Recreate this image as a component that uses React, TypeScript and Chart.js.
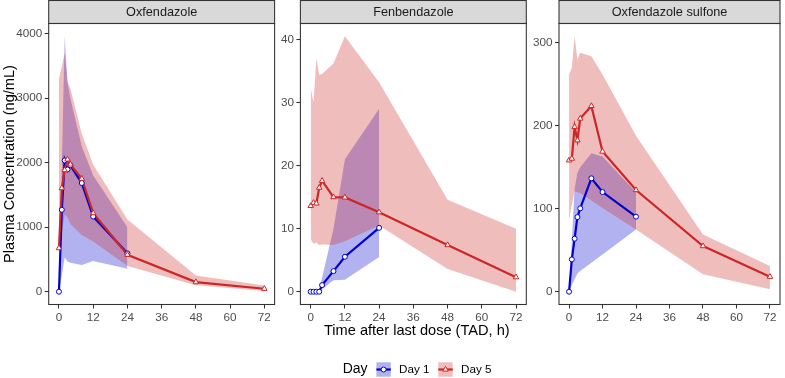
import React, { useEffect, useRef } from "react";
import { Chart, registerables } from "chart.js";

Chart.register(...registerables);

// ---- data -------------------------------------------------------------
const TIME_DAY1 = [0, 1, 2, 3, 4, 8, 12, 24];
const TIME_DAY5 = [0, 1, 2, 3, 4, 8, 12, 24, 48, 72];
const X_TICKS = [0, 12, 24, 36, 48, 60, 72];

// Oxfendazole (ng/mL)
const OXF_D1_MEAN = [0, 1270, 2035, 1895, 1960, 1685, 1165, 595];
const OXF_D1_LO = [0, 250, 530, 470, 450, 415, 475, 355];
const OXF_D1_HI = [0, 1950, 3960, 3250, 3000, 2250, 1800, 1000];
const OXF_D5_MEAN = [676, 1606, 1885, 2051, 1974, 1752, 1219, 573, 149, 46];
const OXF_D5_LO = [450, 900, 1200, 1150, 1050, 880, 780, 400, 100, 10];
const OXF_D5_HI = [3300, 3500, 3700, 3250, 3150, 2450, 1970, 1120, 250, 95];
const OXF_Y_TICKS = [0, 1000, 2000, 3000, 4000];

// Fenbendazole (ng/mL)
const FEN_D1_MEAN = [0, 0, 0, 0, 1.05, 3.27, 5.54, 10.13];
const FEN_D1_LO = [0, 0, 0, 0, 0.4, 1.8, 1.9, 5.5];
const FEN_D1_HI = [0, 0, 0, 0.3, 2.2, 10, 21, 29];
const FEN_D5_MEAN = [13.6, 14.1, 14.0, 16.5, 17.6, 15.0, 14.95, 12.6, 7.4, 2.3];
const FEN_D5_LO = [8.3, 7.6, 7.8, 7.4, 7.5, 7.4, 8.0, 10.5, 3.6, 0];
const FEN_D5_HI = [32.3, 30.0, 37.0, 34.4, 34.5, 36.2, 40.5, 33.2, 14.6, 10.0];
const FEN_Y_TICKS = [0, 10, 20, 30, 40];

// Oxfendazole sulfone (ng/mL)
const SUL_D1_MEAN = [0, 39, 64, 90, 100.5, 136.7, 120.2, 90.5];
const SUL_D1_LO = [0, 8, 15, 22, 25, 35, 45, 75];
const SUL_D1_HI = [0, 62, 125, 143, 150, 167, 163, 120];
const SUL_D5_MEAN = [158.4, 160.5, 198.6, 182.6, 208.8, 224, 169, 122.6, 55, 18.1];
const SUL_D5_LO = [87, 105, 121, 120, 119, 110, 101, 75, 21, 3];
const SUL_D5_HI = [262, 270, 308, 280, 288, 284, 262, 188, 69, 31];
const SUL_Y_TICKS = [0, 100, 200, 300];

const DAY_LABELS = ["Day 1", "Day 5"];
const LEGEND_TITLE = "Day";
const Y_TITLE = "Plasma Concentration (ng/mL)";
const X_TITLE = "Time after last dose (TAD, h)";

// ---- look -------------------------------------------------------------
const FONT = '"Liberation Sans", Arial, Helvetica, sans-serif';
const W = 785;
const H = 378;
const BLUE = "#0000CD";
const RED = "#CD2626";
const BLUE_FILL = "rgba(0,0,205,0.3)";
const RED_FILL = "rgba(205,38,38,0.3)";
const DARK = "#333333";
const TICK_TEXT = "#4D4D4D";

const AREA_TOP = 23.5;
const AREA_BOTTOM = 304.5;
const STRIP_TOP = 0.5;
const Y_AXIS_W = 40;
const X_AXIS_H = 22;

type Panel = {
  title: string;
  left: number;
  right: number;
  yTicks: number[];
  d1: { mean: number[]; lo: number[]; hi: number[] };
  d5: { mean: number[]; lo: number[]; hi: number[] };
};

const PANELS: Panel[] = [
  {
    title: "Oxfendazole",
    left: 48.7,
    right: 274.6,
    yTicks: OXF_Y_TICKS,
    d1: { mean: OXF_D1_MEAN, lo: OXF_D1_LO, hi: OXF_D1_HI },
    d5: { mean: OXF_D5_MEAN, lo: OXF_D5_LO, hi: OXF_D5_HI },
  },
  {
    title: "Fenbendazole",
    left: 300.4,
    right: 526.3,
    yTicks: FEN_Y_TICKS,
    d1: { mean: FEN_D1_MEAN, lo: FEN_D1_LO, hi: FEN_D1_HI },
    d5: { mean: FEN_D5_MEAN, lo: FEN_D5_LO, hi: FEN_D5_HI },
  },
  {
    title: "Oxfendazole sulfone",
    left: 559.0,
    right: 784.9,
    yTicks: SUL_Y_TICKS,
    d1: { mean: SUL_D1_MEAN, lo: SUL_D1_LO, hi: SUL_D1_HI },
    d5: { mean: SUL_D5_MEAN, lo: SUL_D5_LO, hi: SUL_D5_HI },
  },
];

const pts = (xs: number[], ys: number[]) => xs.map((x, i) => ({ x, y: ys[i] }));

// strip on top of each panel plus the panel frame
const panelFrame = {
  id: "panelFrame",
  afterDatasetsDraw(chart: any, _args: any, opts: any) {
    const { ctx, chartArea: a } = chart;
    ctx.save();
    ctx.fillStyle = "#D9D9D9";
    ctx.fillRect(a.left, STRIP_TOP, a.right - a.left, a.top - STRIP_TOP);
    ctx.strokeStyle = DARK;
    ctx.lineWidth = 1.07;
    ctx.strokeRect(a.left, STRIP_TOP, a.right - a.left, a.top - STRIP_TOP);
    ctx.strokeRect(a.left, a.top, a.right - a.left, a.bottom - a.top);
    ctx.fillStyle = "#1A1A1A";
    ctx.font = `12.7px ${FONT}`;
    ctx.textAlign = "center";
    ctx.textBaseline = "middle";
    ctx.fillText(opts.title, (a.left + a.right) / 2, (STRIP_TOP + a.top) / 2 + 0.5);
    ctx.restore();
  },
};

// shared axis titles and the legend at the bottom
const outerText = {
  id: "outerText",
  afterDraw(chart: any) {
    const { ctx } = chart;
    ctx.save();
    ctx.fillStyle = "#000000";
    ctx.font = `14.6px ${FONT}`;
    ctx.textAlign = "center";
    ctx.textBaseline = "middle";
    ctx.save();
    ctx.translate(9.5, (AREA_TOP + AREA_BOTTOM) / 2);
    ctx.rotate(-Math.PI / 2);
    ctx.fillText(Y_TITLE, 0, 0);
    ctx.restore();
    ctx.fillText(X_TITLE, (PANELS[0].left + PANELS[2].right) / 2, 331);

    const cy = 369.5;
    ctx.textAlign = "left";
    ctx.font = `14px ${FONT}`;
    ctx.fillText(LEGEND_TITLE, 342.7, cy);

    const keys = [
      { x: 376.4, fill: BLUE_FILL, color: BLUE, shape: "circle", label: DAY_LABELS[0], tx: 399 },
      { x: 438.3, fill: RED_FILL, color: RED, shape: "triangle", label: DAY_LABELS[1], tx: 461 },
    ];
    const size = 14.4;
    for (const k of keys) {
      ctx.fillStyle = k.fill;
      ctx.fillRect(k.x, cy - size / 2, size, size);
      ctx.strokeStyle = k.color;
      ctx.lineWidth = 2.2;
      ctx.beginPath();
      ctx.moveTo(k.x, cy);
      ctx.lineTo(k.x + size, cy);
      ctx.stroke();
      ctx.fillStyle = "#FFFFFF";
      ctx.lineWidth = 1;
      ctx.beginPath();
      const px = k.x + size / 2;
      if (k.shape === "circle") {
        ctx.arc(px, cy, 2.5, 0, Math.PI * 2);
      } else {
        const r = 3.2;
        ctx.moveTo(px, cy - r);
        ctx.lineTo(px + r * 0.866, cy + r / 2);
        ctx.lineTo(px - r * 0.866, cy + r / 2);
        ctx.closePath();
      }
      ctx.fill();
      ctx.stroke();
      ctx.fillStyle = "#000000";
      ctx.font = `11.7px ${FONT}`;
      ctx.fillText(k.label, k.tx, cy);
    }
    ctx.restore();
  },
};

function buildChart(canvas: HTMLCanvasElement, p: Panel, withOuter: boolean) {
  const all = [...p.d1.lo, ...p.d1.hi, ...p.d5.lo, ...p.d5.hi, ...p.d1.mean, ...p.d5.mean];
  const lo = Math.min(...all);
  const hi = Math.max(...all);
  const pad = (hi - lo) * 0.05;
  const xPad = (X_TICKS[X_TICKS.length - 1] - X_TICKS[0]) * 0.05;

  const hidden = { borderColor: "transparent", borderWidth: 0, pointRadius: 0 };
  const plain = (v: any) => String(v);

  return new Chart(canvas, {
    type: "line",
    data: {
      datasets: [
        {
          data: pts(TIME_DAY5, p.d5.mean),
          showLine: false,
          pointStyle: "triangle",
          pointRadius: 3.2,
          pointBorderWidth: 1,
          pointBackgroundColor: "#FFFFFF",
          pointBorderColor: RED,
          order: 1,
        },
        {
          data: pts(TIME_DAY1, p.d1.mean),
          showLine: false,
          pointStyle: "circle",
          pointRadius: 2.5,
          pointBorderWidth: 1,
          pointBackgroundColor: "#FFFFFF",
          pointBorderColor: BLUE,
          order: 2,
        },
        { data: pts(TIME_DAY5, p.d5.mean), borderColor: RED, borderWidth: 2.2, pointRadius: 0, tension: 0, order: 3 },
        { data: pts(TIME_DAY1, p.d1.mean), borderColor: BLUE, borderWidth: 2.2, pointRadius: 0, tension: 0, order: 4 },
        { data: pts(TIME_DAY5, p.d5.hi), ...hidden, fill: "+1", backgroundColor: RED_FILL, order: 5 },
        { data: pts(TIME_DAY5, p.d5.lo), ...hidden, fill: false, order: 6 },
        { data: pts(TIME_DAY1, p.d1.hi), ...hidden, fill: "+1", backgroundColor: BLUE_FILL, order: 7 },
        { data: pts(TIME_DAY1, p.d1.lo), ...hidden, fill: false, order: 8 },
      ] as any,
    },
    options: {
      responsive: false,
      devicePixelRatio: 1,
      animation: false,
      events: [],
      layout: {
        padding: {
          left: p.left - Y_AXIS_W,
          right: W - p.right,
          top: AREA_TOP,
          bottom: H - AREA_BOTTOM - X_AXIS_H,
        },
      },
      scales: {
        x: {
          type: "linear",
          min: X_TICKS[0] - xPad,
          max: X_TICKS[X_TICKS.length - 1] + xPad,
          afterBuildTicks: (s: any) => {
            s.ticks = X_TICKS.map((v) => ({ value: v }));
          },
          afterFit: (s: any) => {
            s.height = X_AXIS_H;
            s.paddingLeft = 0;
            s.paddingRight = 0;
          },
          grid: { drawOnChartArea: false, drawTicks: true, tickLength: 4, tickWidth: 1.07, tickColor: DARK },
          border: { display: false },
          ticks: {
            color: TICK_TEXT,
            font: { family: FONT, size: 11.7 },
            padding: 2.5,
            maxRotation: 0,
            autoSkip: false,
            callback: plain,
          },
        },
        y: {
          type: "linear",
          min: lo - pad,
          max: hi + pad,
          afterBuildTicks: (s: any) => {
            s.ticks = p.yTicks.map((v) => ({ value: v }));
          },
          afterFit: (s: any) => {
            s.width = Y_AXIS_W;
            s.paddingTop = 0;
            s.paddingBottom = 0;
          },
          grid: { drawOnChartArea: false, drawTicks: true, tickLength: 4, tickWidth: 1.07, tickColor: DARK },
          border: { display: false },
          ticks: {
            color: TICK_TEXT,
            font: { family: FONT, size: 11.7 },
            padding: 2.5,
            autoSkip: false,
            callback: plain,
          },
        },
      },
      plugins: {
        legend: { display: false },
        tooltip: { enabled: false },
        title: { display: false },
        panelFrame: { title: p.title },
      } as any,
    },
    plugins: withOuter ? [panelFrame, outerText] : [panelFrame],
  });
}

export default function App() {
  const r0 = useRef<HTMLCanvasElement>(null);
  const r1 = useRef<HTMLCanvasElement>(null);
  const r2 = useRef<HTMLCanvasElement>(null);

  useEffect(() => {
    const refs = [r0, r1, r2];
    const charts = PANELS.map((p, i) => buildChart(refs[i].current as HTMLCanvasElement, p, i === 0));
    return () => charts.forEach((c) => c.destroy());
  }, []);

  const style: React.CSSProperties = { position: "absolute", left: 0, top: 0, width: W, height: H };
  return (
    <div style={{ position: "absolute", left: 0, top: 0, width: W, height: H, background: "#FFFFFF" }}>
      <canvas ref={r0} width={W} height={H} style={style} />
      <canvas ref={r1} width={W} height={H} style={style} />
      <canvas ref={r2} width={W} height={H} style={style} />
    </div>
  );
}
